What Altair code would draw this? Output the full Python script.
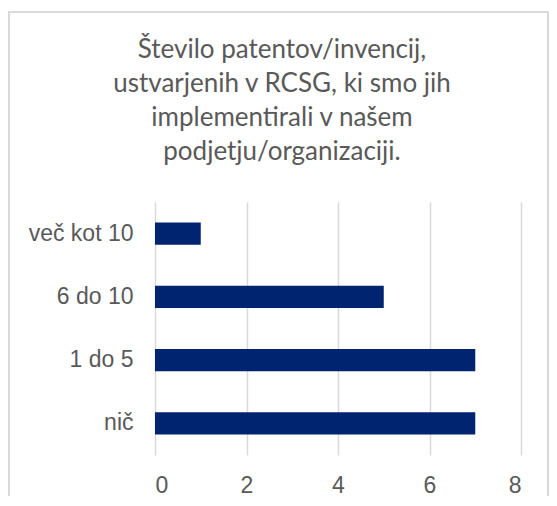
import altair as alt
import pandas as pd

categories = ["več kot 10", "6 do 10", "1 do 5", "nič"]
values = [1, 5, 7, 7]
x_ticks = [0, 2, 4, 6, 8]
title_lines = [
    "Število patentov/invencij,",
    "ustvarjenih v RCSG, ki smo jih",
    "implementirali v našem",
    "podjetju/organizaciji.",
]

df = pd.DataFrame({"kat": categories, "n": values})

W, H = 366, 253

frame = alt.Chart(pd.DataFrame({"a": [0]})).mark_rect(
    fill=None, stroke="#d9d9d9", strokeWidth=2
).encode(
    x=alt.value(-146), x2=alt.value(393),
    y=alt.value(-190), y2=alt.value(H + 80),
)

bars = alt.Chart(df).mark_bar(color="#002470").encode(
    y=alt.Y("kat:N", sort=categories, title=None,
            scale=alt.Scale(paddingInner=0.645, paddingOuter=0.3225),
            axis=alt.Axis(ticks=False, domain=False, labelPadding=22,
                          labelFontSize=23, labelFont="Liberation Sans",
                          labelColor="#595959", grid=False)),
    x=alt.X("n:Q", title=None,
            scale=alt.Scale(domain=[0, 8]),
            axis=alt.Axis(values=x_ticks, ticks=False, domain=False,
                          labelPadding=19, labelFontSize=23,
                          labelFont="Liberation Sans", labelColor="#595959",
                          grid=True, gridColor="#d9d9d9", gridWidth=1.5)),
)

chart = alt.layer(frame, bars).properties(
    width=W, height=H,
    title=alt.TitleParams(text=title_lines, font="Lato", fontSize=26,
                          fontWeight="normal", color="#595959",
                          lineHeight=34, anchor="middle", frame="group",
                          dx=-56, offset=-154),
    autosize=alt.AutoSizeParams(type="none"),
    padding={"left": 147, "top": 194, "right": 28, "bottom": 41},
).configure_view(stroke=None)

chart.save("out.html", embed_options={"renderer": "svg", "actions": False})
